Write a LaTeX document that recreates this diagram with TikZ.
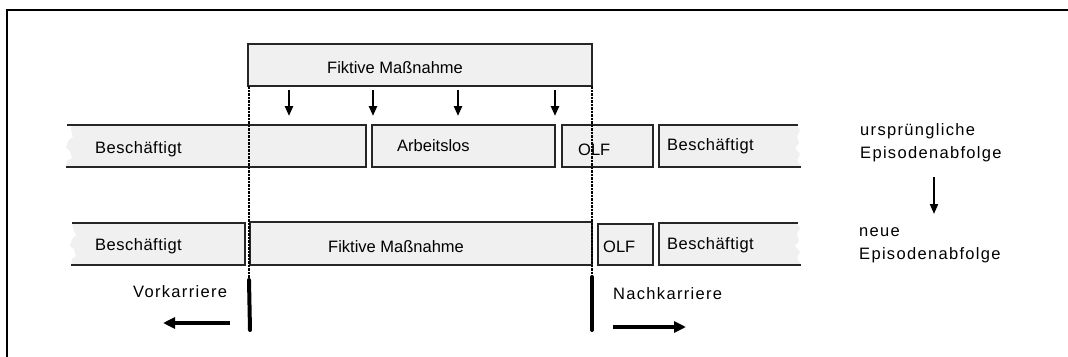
\documentclass[tikz,border=0pt]{standalone}
\usepackage{fontspec}
\setmainfont{Liberation Sans}
\newfontfamily\widefont[LetterSpace=8]{Liberation Sans}
\newfontfamily\midfont[LetterSpace=3]{Liberation Sans}
\usetikzlibrary{arrows.meta}

\tikzset{
  seg/.style={draw=black!85, line width=1.6pt, fill=black!6, inner sep=0pt},
  torn/.style={fill=black!6},
  rim/.style={draw=black!85, line width=1.6pt},
  lbl/.style={anchor=base west, inner sep=0pt, font=\fontsize{16.5}{19}\selectfont},
  lblw/.style={anchor=base west, inner sep=0pt, font=\fontsize{16.5}{19}\selectfont\midfont},
  note/.style={anchor=base west, inner sep=0pt, font=\fontsize{16.5}{19}\selectfont\widefont},
  drop/.style={-{Triangle[length=10pt,width=8pt]}, line width=2.4pt},
  guide/.style={line width=1.8pt, dash pattern=on 2.5pt off 1pt},
  marker/.style={line width=4pt, line cap=round},
  dirarrow/.style={-{Triangle[length=12pt,width=11pt]}, line width=3.6pt},
  flow/.style={-{Triangle[length=10pt,width=8pt]}, line width=2pt},
}

\begin{document}
\begin{tikzpicture}[x=1pt,y=-1pt]
\useasboundingbox (0,0) rectangle (1068,356);
\fill[white] (0,0) rectangle (1068,356);

% frame
\draw[line width=2.6pt] (7,360) -- (7,10) -- (1072,10);

% fictitious measure (top)
\node[seg, minimum width=344pt, minimum height=42pt] (fm) at (420,65) {};
\node[lbl] (fmt) at (327,73) {Fiktive Maßnahme};

% original sequence of episodes
\fill[torn] (72,125) -- (366,125) -- (366,167) -- (66,167) -- (67,161) -- (72,158)
  -- (70,151) -- (66,148) -- (68,141) -- (73,137) -- (71,130) -- cycle;
\draw[rim] (67,125) -- (366,125) -- (366,167) -- (66,167);
\coordinate (b1) at (216,146);
\node[lblw] (b1t) at (95,153) {Beschäftigt};

\node[seg, minimum width=183pt, minimum height=42pt] (al) at (463.5,146) {};
\node[lbl] (alt) at (397,151) {Arbeitslos};

\node[seg, minimum width=91pt, minimum height=42pt] (olf1) at (607.5,146) {};
\node[lbl] (olf1t) at (578,155) {OLF};

\fill[torn] (659,125) -- (796,125) -- (800,130) -- (797,136) -- (799,143) -- (795,148)
  -- (800,154) -- (797,160) -- (801,167) -- (659,167) -- cycle;
\draw[rim] (798,125) -- (659,125) -- (659,167) -- (801,167);
\coordinate (b2) at (730,146);
\node[lblw] (b2t) at (667,150) {Beschäftigt};

% new sequence of episodes
\fill[torn] (72,223) -- (245,223) -- (245,265) -- (71,265) -- (72,259) -- (76,256)
  -- (74,249) -- (70,246) -- (72,239) -- (76,235) -- (73,228) -- cycle;
\draw[rim] (72,223) -- (245,223) -- (245,265) -- (71,265);
\coordinate (b3) at (158,244);
\node[lblw] (b3t) at (95,250) {Beschäftigt};

\node[seg, minimum width=342pt, minimum height=43pt] (fm2) at (421,243.5) {};
\node[lbl] (fm2t) at (328,252) {Fiktive Maßnahme};

\node[seg, minimum width=55pt, minimum height=41pt] (olf2) at (625.5,244.5) {};
\node[lbl] (olf2t) at (603,252) {OLF};

\fill[torn] (659,223) -- (796,223) -- (800,228) -- (797,234) -- (799,241) -- (795,246)
  -- (800,252) -- (797,258) -- (801,265) -- (659,265) -- cycle;
\draw[rim] (798,223) -- (659,223) -- (659,265) -- (801,265);
\coordinate (b4) at (730,244);
\node[lblw] (b4t) at (667,249) {Beschäftigt};

% arrows from the measure onto the original episodes
\foreach \i/\x in {1/289,2/373,3/458,4/555}{
  \coordinate (ds\i) at (\x,90);
  \coordinate (de\i) at (\x,116);
  \draw[drop] (ds\i) -- (de\i);
}

% borders of the measure
\coordinate (lt) at (249,86);
\coordinate (lb) at (249,280);
\coordinate (rt) at (592,86);
\coordinate (rb) at (592,277);
\draw[guide] (lt) -- (lb);
\draw[guide] (rt) -- (rb);
\coordinate (lm) at (250,330);
\coordinate (rm) at (592,330);
\draw[marker] (lb) -- (lm);
\draw[marker] (rb) -- (rm);

% career before and after
\node[note] (vk) at (133,297) {Vorkarriere};
\coordinate (vka) at (230,323);
\coordinate (vkb) at (163,323);
\draw[dirarrow] (vka) -- (vkb);

\node[note] (nk) at (613,299) {Nachkarriere};
\coordinate (nka) at (613,327);
\coordinate (nkb) at (686,327);
\draw[dirarrow] (nka) -- (nkb);

% legend
\node[note] (u1) at (860,135) {ursprüngliche};
\node[note] (u2) at (860,158.5) {Episodenabfolge};
\coordinate (ua) at (934,177);
\coordinate (ub) at (934,214);
\draw[flow] (ua) -- (ub);
\node[note] (n1) at (859,236) {neue};
\node[note] (n2) at (859,259) {Episodenabfolge};
\end{tikzpicture}
\end{document}
